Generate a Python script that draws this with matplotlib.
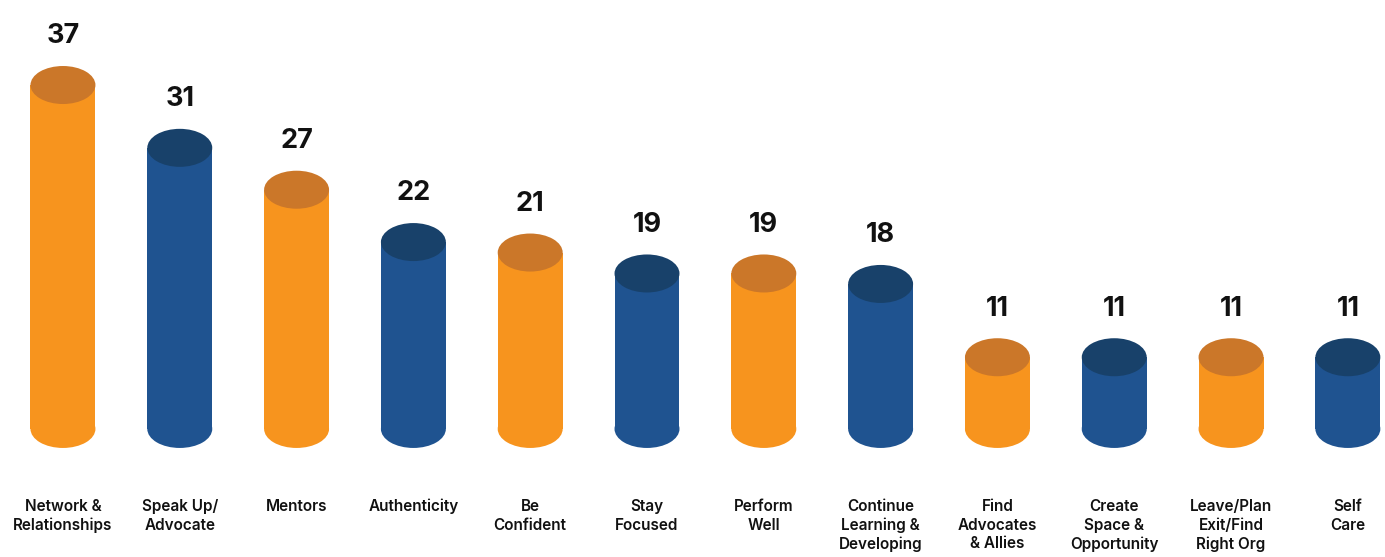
import matplotlib
matplotlib.use("Agg")
import matplotlib.pyplot as plt
from matplotlib.patches import Ellipse, Rectangle
import matplotlib.transforms as mtransforms

categories = ["Network &\nRelationships", "Speak Up/\nAdvocate", "Mentors", "Authenticity",
              "Be\nConfident", "Stay\nFocused", "Perform\nWell", "Continue\nLearning &\nDeveloping",
              "Find\nAdvocates\n& Allies", "Create\nSpace &\nOpportunity", "Leave/Plan\nExit/Find\nRight Org",
              "Self\nCare"]
values = [37, 31, 27, 22, 21, 19, 19, 18, 11, 11, 11, 11]

body_colors = ["#F7941E", "#1F5390"]
top_colors = ["#CB7729", "#18416A"]

plt.rcParams['font.family'] = ['Inter', 'DejaVu Sans']

fig = plt.figure(figsize=(13.85, 5.57), dpi=100)
ax = fig.add_axes([0, 0, 1, 1])
ax.set_xlim(-0.539, 11.318)
ax.set_ylim(-8.08, 45.12)
ax.axis("off")

base = 4.15
w = 0.556
eh = 3.63

for i, (cat, v) in enumerate(zip(categories, values)):
    bc = body_colors[i % 2]
    tc = top_colors[i % 2]
    ax.add_patch(Ellipse((i, base), w, eh, facecolor=bc, edgecolor="none", zorder=2))
    ax.add_patch(Rectangle((i - w / 2, base), w, v - base, facecolor=bc, edgecolor="none", zorder=2))
    ax.add_patch(Ellipse((i, v), w, eh, facecolor=tc, edgecolor="none", zorder=3))
    ax.annotate(str(v), (i, v), xytext=(0, 35), textcoords="offset points",
                ha="center", va="center", fontsize=19.5, fontweight="bold", color="#111111")

trans = mtransforms.blended_transform_factory(ax.transData, ax.transAxes)
for i, cat in enumerate(categories):
    ax.text(i, 1 - 499 / 557, cat, transform=trans, ha="center", va="top",
            fontsize=11, fontweight="semibold", color="#111111", linespacing=1.3)

fig.savefig("out.png", dpi=100)
